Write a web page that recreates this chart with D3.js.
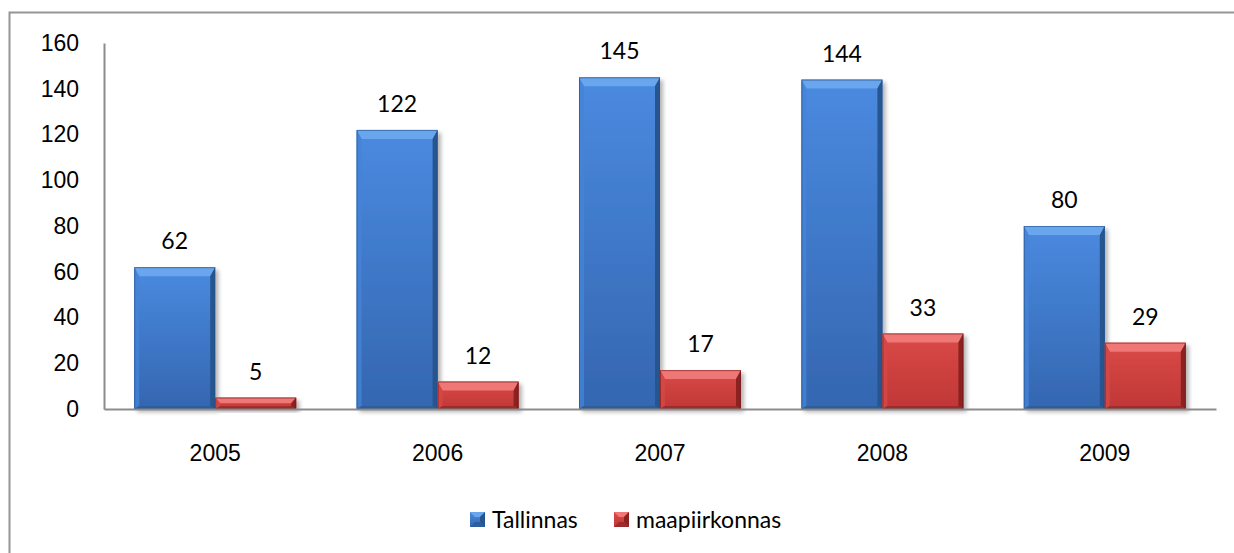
<!DOCTYPE html>
<html>
<head>
<meta charset="utf-8">
<script src="https://cdn.jsdelivr.net/npm/d3@7"></script>
<style>
  body { margin: 0; background: #fff; }
  svg { display: block; font-family: Lato, "Open Sans", sans-serif; }
</style>
</head>
<body>
<svg width="1234" height="553"></svg>
<script>
// chart data
const years = ['2005', '2006', '2007', '2008', '2009'];
const tallinnas = [62, 122, 145, 144, 80];
const maapiirkonnas = [5, 12, 17, 33, 29];
const seriesNames = ['Tallinnas', 'maapiirkonnas'];
const yTicks = [0, 20, 40, 60, 80, 100, 120, 140, 160];

// bevel colours for each series
const palette = [
    {hi: '#4a8ae0', lo: '#3466b0', top: '#6aa6ee', left: '#4583d6', right: '#28558f', bottom: '#2d5d9c', edge: '#234f8a'},
    {hi: '#da4a48', lo: '#bf3736', top: '#ef7775', left: '#d44746', right: '#8a2222', bottom: '#9e2b2b', edge: '#7a1c1c'}
];
const fontSize = 23;

const svg = d3.select('svg');
const defs = svg.append('defs');

// outer frame (right and bottom edges run off the picture)
svg.append('rect')
    .attr('x', 9.5).attr('y', 12.5)
    .attr('width', 1240).attr('height', 560)
    .attr('fill', 'none')
    .attr('stroke', '#959595')
    .attr('stroke-width', 2);

const plotLeft = 104, plotRight = 1216, plotTop = 43, plotBottom = 409;

const x = d3.scaleBand().domain(years).range([plotLeft, plotRight]).paddingInner(0).paddingOuter(0);
const y = d3.scaleLinear().domain([0, 160]).range([plotBottom, plotTop]);
const inner = d3.scaleBand().domain([0, 1]).range([0, 162]);

// face gradients
palette.forEach((c, i) => {
    const lg = defs.append('linearGradient').attr('id', 'face' + i)
        .attr('x1', 0).attr('y1', 0).attr('x2', 0).attr('y2', 1);
    lg.append('stop').attr('offset', '0%').attr('stop-color', c.hi);
    lg.append('stop').attr('offset', '100%').attr('stop-color', c.lo);
});

// shadow filter
const f = defs.append('filter').attr('id', 'shadow').attr('x', '-20%').attr('y', '-20%').attr('width', '150%').attr('height', '150%');
f.append('feGaussianBlur').attr('in', 'SourceAlpha').attr('stdDeviation', 2);
f.append('feOffset').attr('dx', 3).attr('dy', 3).attr('result', 'off');
f.append('feComponentTransfer').append('feFuncA').attr('type', 'linear').attr('slope', 0.3);
const merge = f.append('feMerge');
merge.append('feMergeNode');
merge.append('feMergeNode').attr('in', 'SourceGraphic');

// y axis
const yAxis = svg.append('g')
    .attr('transform', `translate(${plotLeft},0)`)
    .call(d3.axisLeft(y).tickValues(yTicks).tickSize(0).tickPadding(25));
yAxis.select('.domain').attr('stroke', '#8c8c8c').attr('stroke-width', 2);
yAxis.selectAll('text').attr('font-size', fontSize).attr('fill', '#000');

const rows = years.map((yr, i) => ({year: yr, vals: [tallinnas[i], maapiirkonnas[i]]}));

const bars = [];
rows.forEach(r => {
    r.vals.forEach((v, s) => {
        const x0 = x(r.year) + (x.bandwidth() - 162) / 2 + inner(s);
        bars.push({x0: x0, w: inner.bandwidth(), y0: y(v), y1: y(0), v: v, s: s});
    });
});

const g = svg.append('g');
const barG = g.selectAll('g.bar').data(bars).enter().append('g').attr('class', 'bar')
    .attr('filter', 'url(#shadow)');

barG.each(function(d) {
    const el = d3.select(this);
    const c = palette[d.s];
    const h = d.y1 - d.y0;
    const bt = Math.min(9, h / 2), bs = Math.min(5, h / 2), bb = Math.min(3, h / 4);
    const x0 = d.x0, x1 = d.x0 + d.w, y0 = d.y0, y1 = d.y1;
    el.append('rect').attr('x', x0).attr('y', y0).attr('width', d.w).attr('height', h).attr('fill', `url(#face${d.s})`);
    el.append('polygon').attr('points', [[x0, y0], [x1, y0], [x1 - bs, y0 + bt], [x0 + bs, y0 + bt]].join(' ')).attr('fill', c.top);
    el.append('polygon').attr('points', [[x0, y0], [x0 + bs, y0 + bt], [x0 + bs, y1 - bb], [x0, y1]].join(' ')).attr('fill', c.left).attr('opacity', 0.8);
    el.append('polygon').attr('points', [[x1, y0], [x1 - bs, y0 + bt], [x1 - bs, y1 - bb], [x1, y1]].join(' ')).attr('fill', c.right);
    el.append('polygon').attr('points', [[x0, y1], [x0 + bs, y1 - bb], [x1 - bs, y1 - bb], [x1, y1]].join(' ')).attr('fill', c.bottom);
    el.append('rect').attr('x', x0 + 0.5).attr('y', y0 + 0.5).attr('width', d.w - 1).attr('height', h - 1)
        .attr('fill', 'none').attr('stroke', c.edge).attr('stroke-width', 1).attr('stroke-opacity', 0.6);
});

// value labels
g.selectAll('text.val').data(bars).enter().append('text')
    .attr('x', d => d.x0 + d.w / 2)
    .attr('y', d => d.y0 - 18)
    .attr('text-anchor', 'middle')
    .attr('font-size', fontSize)
    .attr('fill', '#000')
    .text(d => d.v);

// x axis
const xAxis = svg.append('g')
    .attr('transform', `translate(0,${plotBottom})`)
    .call(d3.axisBottom(x).tickSize(0).tickPadding(36));
xAxis.select('.domain').attr('stroke', '#8c8c8c').attr('stroke-width', 2);
xAxis.selectAll('text').attr('font-size', fontSize).attr('fill', '#000');

// legend
const legendX = [470, 614];
const legend = svg.append('g');
seriesNames.forEach((name, i) => {
    const c = palette[i];
    const lx = legendX[i], ly = 512, s = 15, b = 5;
    const lg = legend.append('g');
    lg.append('rect').attr('x', lx).attr('y', ly).attr('width', s).attr('height', s).attr('fill', `url(#face${i})`);
    lg.append('polygon').attr('points', [[lx, ly], [lx + s, ly], [lx + s - b, ly + b], [lx + b, ly + b]].join(' ')).attr('fill', c.top);
    lg.append('polygon').attr('points', [[lx + s, ly], [lx + s - b, ly + b], [lx + s - b, ly + s - b], [lx + s, ly + s]].join(' ')).attr('fill', c.right);
    lg.append('polygon').attr('points', [[lx, ly + s], [lx + b, ly + s - b], [lx + s - b, ly + s - b], [lx + s, ly + s]].join(' ')).attr('fill', c.bottom);
    lg.append('text').attr('x', lx + 22).attr('y', ly + 16).attr('font-size', fontSize).attr('fill', '#000').text(name);
});
</script>
</body>
</html>
